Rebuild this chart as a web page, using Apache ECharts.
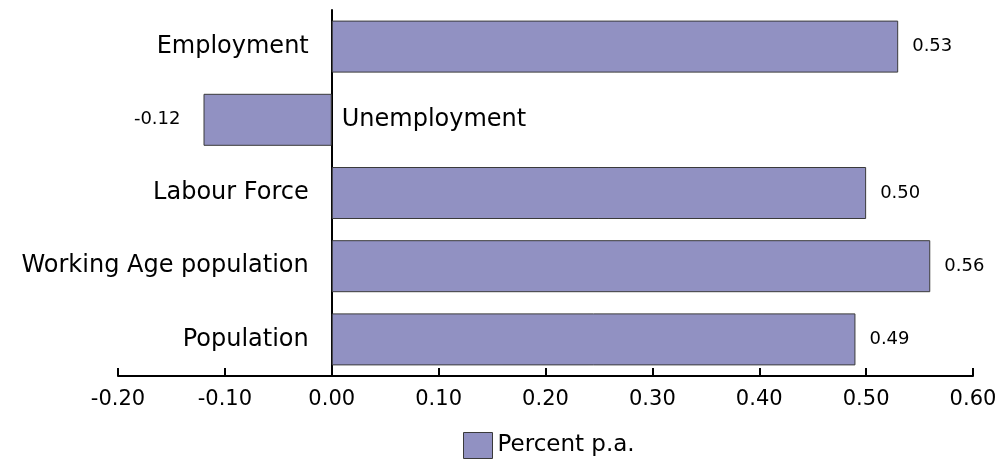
<!DOCTYPE html>
<html>
<head>
<meta charset="utf-8">
<script src="https://cdn.jsdelivr.net/npm/echarts@6/dist/echarts.min.js"></script>
<style>html,body{margin:0;padding:0;background:#fff}#c{width:1000px;height:462px}</style>
</head>
<body>
<div id="c"></div>
<script>
const categories = ['Employment', 'Unemployment', 'Labour Force', 'Working Age population', 'Population'];
const values = [0.53, -0.12, 0.50, 0.56, 0.49];
const seriesName = 'Percent p.a.';
const xMin = -0.2, xMax = 0.6, xStep = 0.1;

const FONT = 'DejaVu Sans';
const chart = echarts.init(document.getElementById('c'));

const barData = values.map(v => ({
  value: v,
  label: { position: v >= 0 ? 'right' : 'left', distance: v >= 0 ? 14 : 23 }
}));
const nameData = values.map(v => ({
  value: v,
  label: { position: v >= 0 ? 'left' : 'right', distance: v >= 0 ? 23 : 10 }
}));

chart.setOption({
  animation: false,
  grid: { left: 118, right: 27, top: 10, bottom: 86 },
  legend: {
    data: [{ name: seriesName, icon: 'rect' }],
    left: 463, top: 432, padding: 0,
    itemWidth: 29, itemHeight: 26, itemGap: 10,
    itemStyle: { borderColor: '#3a3a3a', borderWidth: 1 },
    textStyle: { fontFamily: FONT, fontSize: 23, color: '#000' }
  },
  xAxis: {
    type: 'value', min: xMin, max: xMax, interval: xStep,
    splitLine: { show: false },
    axisLine: { show: true, onZero: false, lineStyle: { color: '#000', width: 2 } },
    axisTick: { show: true, inside: true, length: 8, lineStyle: { color: '#000', width: 2 } },
    axisLabel: { margin: 13, fontFamily: FONT, fontSize: 21, color: '#000', formatter: v => v.toFixed(2) }
  },
  yAxis: {
    type: 'category', data: categories, inverse: true,
    axisLine: { show: true, onZero: true, lineStyle: { color: '#000', width: 2 } },
    axisTick: { show: false },
    axisLabel: { show: false }
  },
  series: [
    {
      name: seriesName, type: 'bar', data: barData, barWidth: 52,
      itemStyle: { color: '#9191c2', borderColor: '#3a3a3a', borderWidth: 1 },
      label: { show: true, fontFamily: FONT, fontSize: 18, color: '#000', formatter: p => p.value.toFixed(2) },
      z: 2
    },
    {
      name: 'names', type: 'bar', data: nameData, barWidth: 52, barGap: '-100%', silent: true,
      itemStyle: { color: 'rgba(0,0,0,0)', borderWidth: 0 },
      label: { show: true, fontFamily: FONT, fontSize: 24, color: '#000', formatter: p => categories[p.dataIndex] },
      z: 3
    }
  ]
});
</script>
</body>
</html>
